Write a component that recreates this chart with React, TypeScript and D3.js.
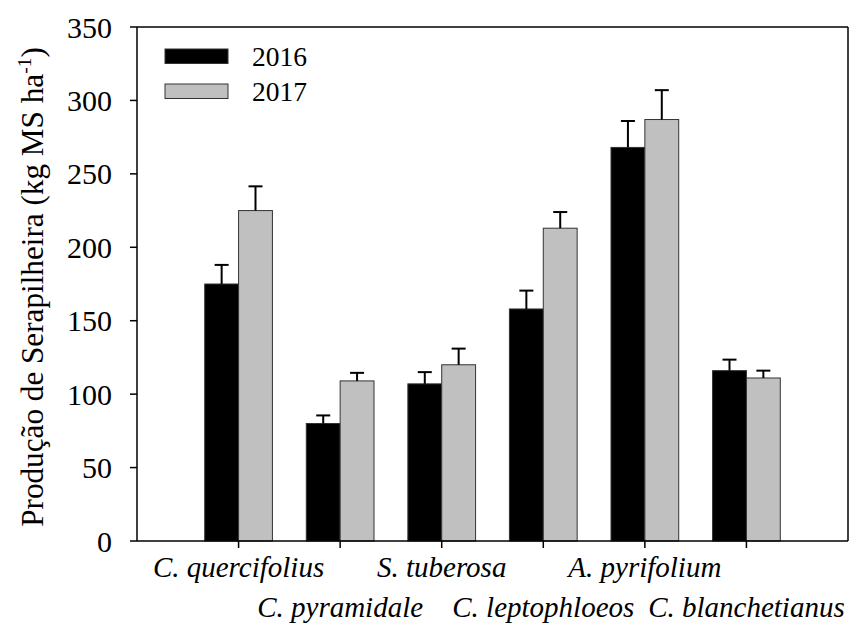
import React from "react";
import * as d3 from "d3";

const categories = ["C. quercifolius", "C. pyramidale", "S. tuberosa", "C. leptophloeos", "A. pyrifolium", "C. blanchetianus"];
const values2016 = [175, 80, 107, 158, 268, 116];
const errors2016 = [13, 5.5, 8, 12.5, 18, 7.5];
const values2017 = [225, 109, 120, 213, 287, 111];
const errors2017 = [16.5, 5.5, 11, 11, 20, 5];
const yTicks = [0, 50, 100, 150, 200, 250, 300, 350];
const seriesNames = ["2016", "2017"];

const W = 865;
const H = 628;
const M = { left: 137, right: 848, top: 27, bottom: 541 };

export default function App() {
  const x = d3.scaleLinear().domain([0, categories.length + 1]).range([M.left, M.right]);
  const y = d3.scaleLinear().domain([0, 350]).range([M.bottom, M.top]);
  const bw = x(1 / 3) - x(0);
  const series = [
    { name: seriesNames[0], vals: values2016, errs: errors2016, fill: "#000000", offset: -1 },
    { name: seriesNames[1], vals: values2017, errs: errors2017, fill: "#c0c0c0", offset: 0 },
  ];
  const ts = { fontFamily: "Liberation Serif" };
  return (
    <svg width={W} height={H} style={{ position: "absolute", left: 0, top: 0, background: "#fff" }}>
      {/* bars */}
      {series.map((s) =>
        s.vals.map((v, i) => {
          const x0 = x(i + 1) + s.offset * bw;
          return (
            <g key={s.name + i}>
              <rect x={x0} y={y(v)} width={bw} height={y(0) - y(v)} fill={s.fill} stroke="#333" strokeWidth={1} />
              <line x1={x0 + bw / 2} x2={x0 + bw / 2} y1={y(v)} y2={y(v + s.errs[i])} stroke="#000" strokeWidth={2} />
              <line x1={x0 + bw / 2 - 7} x2={x0 + bw / 2 + 7} y1={y(v + s.errs[i])} y2={y(v + s.errs[i])} stroke="#000" strokeWidth={2} />
            </g>
          );
        })
      )}
      {/* frame */}
      <line x1={M.left} x2={M.right} y1={M.top} y2={M.top} stroke="#000" strokeWidth={1.5} />
      <line x1={M.right} x2={M.right} y1={M.top} y2={M.bottom} stroke="#000" strokeWidth={1.5} />
      <line x1={M.left} x2={M.left} y1={M.top} y2={M.bottom} stroke="#000" strokeWidth={1.5} />
      <line x1={M.left} x2={M.right} y1={M.bottom} y2={M.bottom} stroke="#000" strokeWidth={1.5} />
      {/* y ticks */}
      {yTicks.map((t) => (
        <g key={t}>
          <line x1={M.left - 7} x2={M.left} y1={y(t)} y2={y(t)} stroke="#000" strokeWidth={1.5} />
          <text style={ts} x={112} y={y(t)} dy="0.35em" textAnchor="end" fontSize={30}>{t}</text>
        </g>
      ))}
      {/* x ticks + labels */}
      {categories.map((c, i) => (
        <g key={c}>
          <line x1={x(i + 1)} x2={x(i + 1)} y1={M.bottom} y2={M.bottom + 7} stroke="#000" strokeWidth={1.5} />
          <text style={ts} x={x(i + 1)} y={i % 2 === 0 ? 577 : 617} textAnchor="middle" fontSize={29} fontStyle="italic">{c}</text>
        </g>
      ))}
      {/* y title */}
      <text style={ts} transform="rotate(-90)" x={-(M.top + M.bottom) / 2 - 3} y={43} textAnchor="middle" fontSize={31.2}>
        Produção de Serapilheira (kg MS ha<tspan fontSize={19.5} dy={-12}>-1</tspan><tspan dy={12}>)</tspan>
      </text>
      {/* legend */}
      {series.map((s, i) => (
        <g key={s.name}>
          <rect x={165} y={49 + i * 35} width={63} height={14.5} fill={s.fill} stroke="#333" strokeWidth={1} />
          <text style={ts} x={252} y={66 + i * 35} fontSize={27.5}>{s.name}</text>
        </g>
      ))}
    </svg>
  );
}
